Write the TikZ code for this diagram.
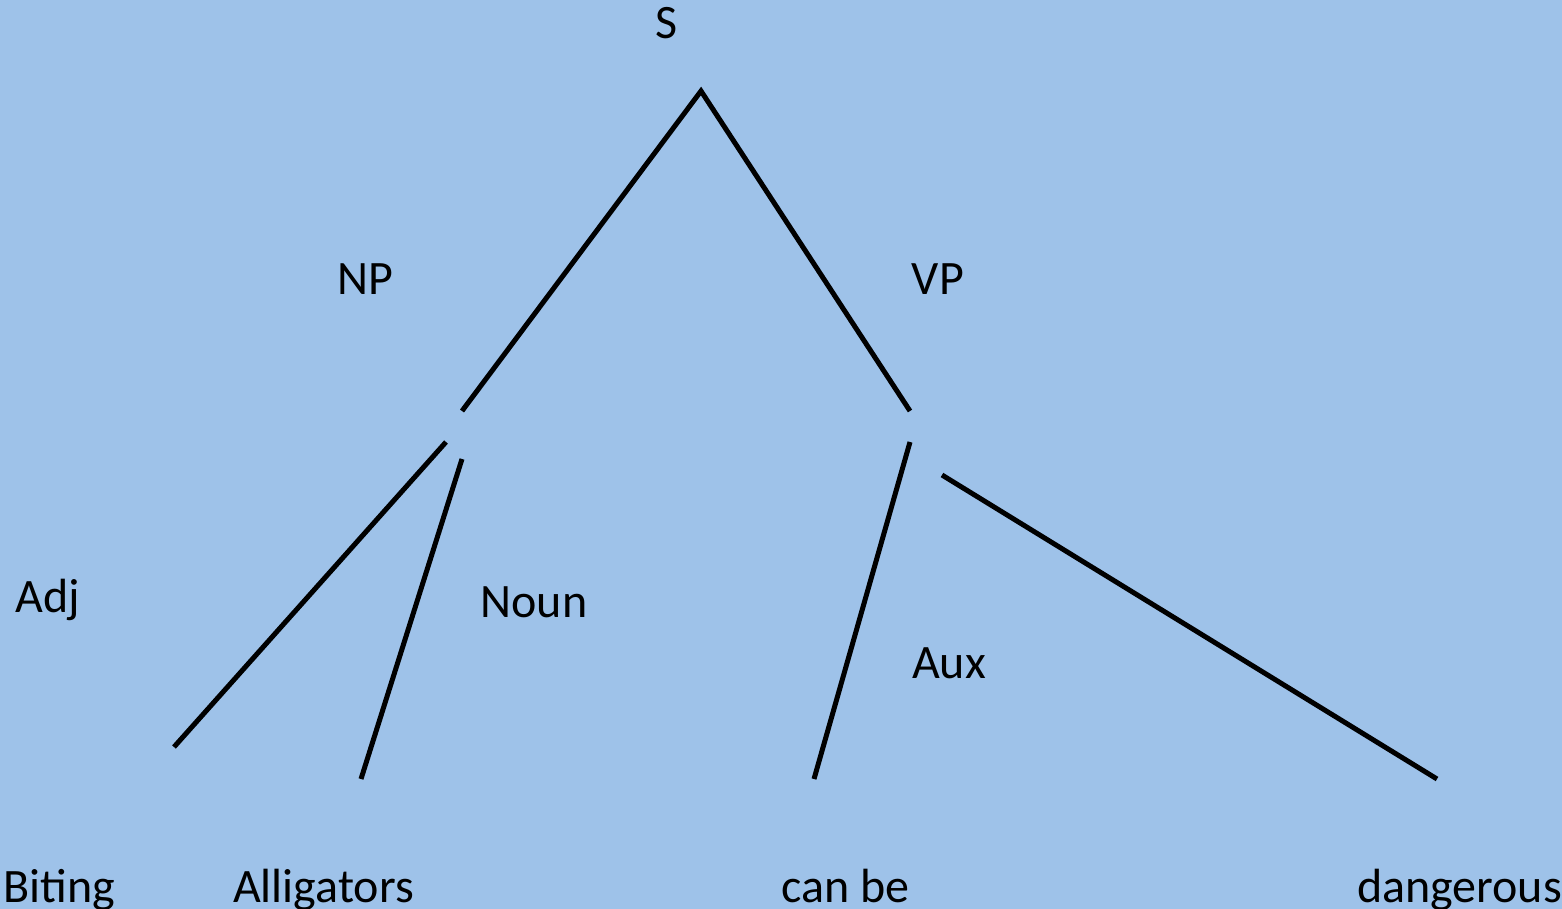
\documentclass[tikz,border=0pt]{standalone}
\usepackage{fontspec}
\setmainfont{Carlito}
\definecolor{bg}{RGB}{158,194,233}
\begin{document}
\begin{tikzpicture}[x=1pt,y=-1pt,
  lbl/.style={font=\fontsize{48}{56}\selectfont, inner sep=0pt, text=black},
  branch/.style={line width=5pt, black}]
\fill[bg] (0,0) rectangle (1562,909);
\useasboundingbox (0,0) rectangle (1562,909);
% labels
\node[lbl] (S) at (667,23) {S};
\node[lbl] (NP) at (365,279) {NP};
\node[lbl] (VP) at (938,279) {VP};
\node[lbl] (Adj) at (48,600) {Adj};
\node[lbl] (Noun) at (534,602) {Noun};
\node[lbl] (Aux) at (949,663) {Aux};
\node[lbl, anchor=base west] (w1) at (3,902) {Biting};
\node[lbl, anchor=base west] (w2) at (233,902) {Alligators};
\node[lbl, anchor=base west] (w3) at (781,902) {can be};
\node[lbl, anchor=base east] (w4) at (1562,902) {dangerous};
% coordinates
\coordinate (top) at (701,91);
\coordinate (npend) at (462,411);
\coordinate (vpend) at (910,411);
\coordinate (np1) at (446,442);
\coordinate (adjend) at (174,747);
\coordinate (np2) at (462,459);
\coordinate (nounend) at (361,779);
\coordinate (vp1) at (910,442);
\coordinate (auxend) at (814,779);
\coordinate (vp2) at (942,475);
\coordinate (dangend) at (1437,779);
\draw[branch] (npend) -- (top) -- (vpend);
\draw[branch] (np1) -- (adjend);
\draw[branch] (np2) -- (nounend);
\draw[branch] (vp1) -- (auxend);
\draw[branch] (vp2) -- (dangend);
\end{tikzpicture}
\end{document}
